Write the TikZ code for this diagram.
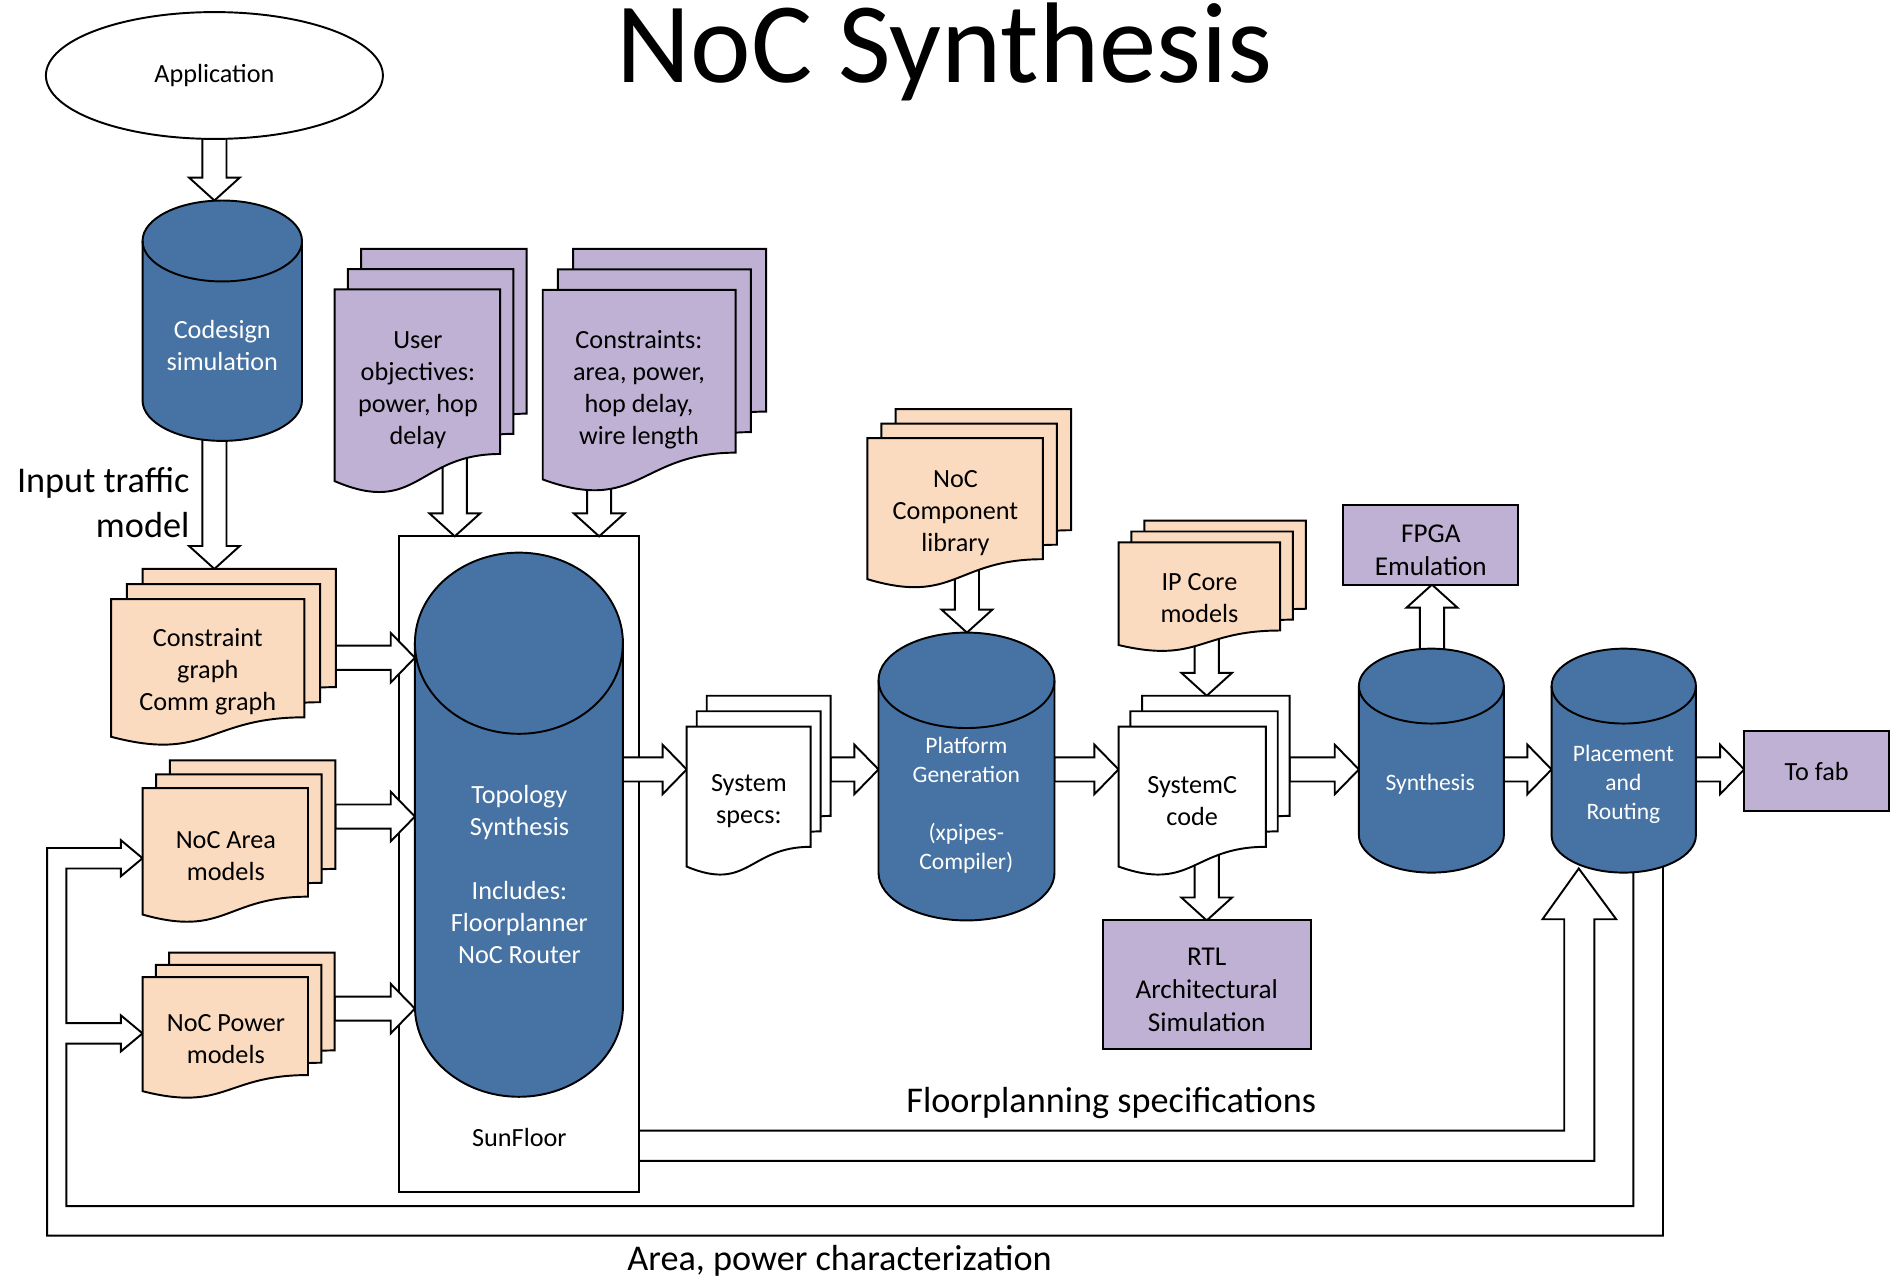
\documentclass[tikz,border=0pt]{standalone}
\usepackage{fontspec}
\setmainfont{Carlito}
\usetikzlibrary{shapes.geometric,calc}
\definecolor{cylblue}{RGB}{70,115,163}
\definecolor{lilac}{RGB}{191,177,211}
\definecolor{peach}{RGB}{251,219,191}
\pgfdeclarelayer{under}
\pgfsetlayers{under,main}

\tikzset{
  outline/.style={draw=black, line width=1.6pt, line join=miter},
  box/.style={rectangle, draw=none, inner sep=0pt, outer sep=0pt},
  cylbody/.style={outline, fill=cylblue},
  lilacdoc/.style={outline, fill=lilac},
  peachdoc/.style={outline, fill=peach},
  whitedoc/.style={outline, fill=white},
  blk/.style={outline, fill=white},
  pipe/.style={outline},
  txt/.style={font=\fontsize{21.7}{26.5}\selectfont, align=center, inner sep=0pt, yshift=-2pt},
  smalltxt/.style={font=\fontsize{19.5}{24}\selectfont, align=center, inner sep=0pt, yshift=-2pt},
  bigtxt/.style={font=\fontsize{30}{37}\selectfont, inner sep=0pt, yshift=-2pt},
  boxtxt/.style={font=\fontsize{22.5}{27.5}\selectfont, align=center, inner sep=0pt, yshift=-2pt},
  flatbox/.style={box, outline, fill=lilac, anchor=north west},
}

% cylinder: name, left, top, right, bottom, cap radius
\newcommand\cylinderbox[6]{%
  \node[box, anchor=north west, minimum width={(#4-#2)*1pt}, minimum height={(#5-#3)*1pt}] (#1) at (#2,#3) {};
  \path[cylbody] (#2,{#3+#6}) -- (#2,{#5-#6})
     arc[start angle=180, end angle=360, x radius={(#4-#2)/2*1pt}, y radius={#6*1pt}]
     -- (#4,{#3+#6})
     arc[start angle=0, end angle=180, x radius={(#4-#2)/2*1pt}, y radius={#6*1pt}] -- cycle;
  \draw[outline] (#2,{#3+#6})
     arc[start angle=180, end angle=360, x radius={(#4-#2)/2*1pt}, y radius={#6*1pt}];
}

% one page with a wavy lower edge: left, top, width, height, style
\newcommand\docpage[5]{%
  \path[#5] ({#1},{#2}) -- ({#1+#3},{#2}) -- ({#1+#3},{#2+0.802*#4})
    .. controls ({#1+0.5*#3},{#2+0.802*#4}) and ({#1+0.5*#3},{#2+1.1075*#4}) ..
    ({#1},{#2+0.934*#4}) -- cycle;
}

% stack of three pages: name, left, top (front page), width, height, dx, dy, style
\newcommand\docstack[8]{%
  \node[box, anchor=north west, minimum width={(#4+2*(#6))*1pt}, minimum height={(#5-2*(#7))*1pt}] (#1) at ({#2},{#3+2*(#7)}) {};
  \docpage{#2+2*(#6)}{#3+2*(#7)}{#4}{#5}{#8}
  \docpage{#2+(#6)}{#3+(#7)}{#4}{#5}{#8}
  \docpage{#2}{#3}{#4}{#5}{#8}
}

% hollow block arrows
\newcommand\rightblock[2]{%
  \draw[blk] let \p1=(#1), \p2=(#2) in
    (\x1,{\y1+10pt}) -- ({\x2-20pt},{\y1+10pt}) -- ({\x2-20pt},{\y1+20.5pt}) -- (\x2,\y1)
    -- ({\x2-20pt},{\y1-20.5pt}) -- ({\x2-20pt},{\y1-10pt}) -- (\x1,{\y1-10pt}) -- cycle;
}
\newcommand\downblock[2]{%
  \draw[blk] let \p1=(#1), \p2=(#2) in
    ({\x1-10pt},\y1) -- ({\x1-10pt},{\y2+19pt}) -- ({\x1-21pt},{\y2+19pt}) -- (\x1,\y2)
    -- ({\x1+21pt},{\y2+19pt}) -- ({\x1+10pt},{\y2+19pt}) -- ({\x1+10pt},\y1) -- cycle;
}
\newcommand\upblock[2]{%
  \draw[blk] let \p1=(#1), \p2=(#2) in
    ({\x1-10pt},\y1) -- ({\x1-10pt},{\y2-19pt}) -- ({\x1-21pt},{\y2-19pt}) -- (\x1,\y2)
    -- ({\x1+21pt},{\y2-19pt}) -- ({\x1+10pt},{\y2-19pt}) -- ({\x1+10pt},\y1) -- cycle;
}

\begin{document}
\begin{tikzpicture}[x=1pt, y=-1pt]
\useasboundingbox (0,0) rectangle (1568,1058);

% title
\node[anchor=base, font=\fontsize{95}{110}\selectfont, inner sep=0pt] (title) at (782,68) {NoC Synthesis};

% application
\node[ellipse, outline, fill=white, minimum width=279pt, minimum height=105pt, inner sep=0pt, txt] (app) at (177.5,60.5) {Application};

% cylinders
\cylinderbox{codesign}{118}{166}{250}{365}{33.5}
\cylinderbox{topo}{343.5}{457.5}{515.7}{908}{75}
\cylinderbox{platform}{727.3}{523.7}{873}{762}{39.5}
\cylinderbox{synth}{1125}{537}{1245}{722.4}{31}
\cylinderbox{place}{1284.5}{537}{1404}{722.4}{31}

% document stacks
\docstack{userobj}{277}{239.5}{137}{170}{11}{-16.7}{lilacdoc}
\docstack{constr}{449.3}{240}{159.7}{168}{12.6}{-17}{lilacdoc}
\docstack{cgraph}{92}{496}{160}{122}{13}{-12.5}{peachdoc}
\docstack{narea}{118}{652.5}{137}{112}{11.3}{-11.5}{peachdoc}
\docstack{npower}{118}{809}{137}{101}{11}{-10.2}{peachdoc}
\docstack{specs}{568.5}{601.6}{102.6}{124}{8.3}{-12.8}{whitedoc}
\docstack{ncomp}{718}{362.7}{145.3}{125}{11.7}{-12}{peachdoc}
\docstack{ipcore}{926}{449}{133.7}{91}{10.7}{-9}{peachdoc}
\docstack{sysc}{926}{601.6}{122}{124}{9.8}{-12.8}{whitedoc}

% plain boxes
\node[flatbox, minimum width=145pt, minimum height=66pt] (fpga) at (1112,418) {};
\node[flatbox, minimum width=172pt, minimum height=106.4pt] (rtl) at (913,762) {};
\node[flatbox, minimum width=120pt, minimum height=66.7pt, txt] (tofab) at (1444,603) {To fab};

% labels
\node[boxtxt] (fpga-t) at (1184.5,453.5) {FPGA\\Emulation};
\node[boxtxt] (rtl-t) at (999,817.5) {RTL\\Architectural\\Simulation};
\node[txt, text=white] (codesign-t) at (184,284) {Codesign\\simulation};
\node[bigtxt, align=right, anchor=east] (traffic) at (157,414) {Input traffic\\model};
\node[txt] (userobj-t) at (346,321) {User\\objectives:\\power, hop\\delay};
\node[txt] (constr-t) at (529,321) {Constraints:\\area, power,\\hop delay,\\wire length};
\node[txt] (cgraph-t) at (172,554.5) {Constraint\\graph\\Comm graph};
\node[txt] (narea-t) at (187,706.5) {NoC Area\\models};
\node[txt] (npower-t) at (187,858) {NoC Power\\models};
\node[txt, text=white] (topo-t) at (430,722) {Topology\\Synthesis\\[26.5pt]Includes:\\Floorplanner\\NoC Router};
\node[txt] (sunfloor-t) at (430,940) {SunFloor};
\node[txt] (specs-t) at (620,661) {System\\specs:};
\node[smalltxt, text=white] (platform-t) at (800,664.5) {Platform\\Generation\\[24pt](xpipes-\\Compiler)};
\node[txt] (ncomp-t) at (791,422.5) {NoC\\Component\\library};
\node[txt] (ipcore-t) at (993,493) {IP Core\\models};
\node[txt] (sysc-t) at (987,661) {SystemC\\code};
\node[smalltxt, text=white] (synth-t) at (1184,647) {Synthesis};
\node[smalltxt, text=white] (place-t) at (1344,647) {Placement\\and\\Routing};
\node[bigtxt] (fp-t) at (920,911) {Floorplanning specifications};
\node[bigtxt] (ap-t) at (695,1042) {Area, power characterization};

\coordinate (row) at (0,637);

\begin{pgfonlayer}{under}
  % SunFloor frame around the topology synthesis step
  \node[box, outline, fill=white, anchor=north west, minimum width=199pt, minimum height=543pt] (sunfloor) at (330,444) {};

  % vertical flow
  \downblock{$(app.south)+(0,-8)$}{codesign.north}
  \downblock{$(app.south |- codesign.south)+(0,-10)$}{cgraph.north}
  \downblock{$(userobj.south west)+(99.5,-35)$}{sunfloor.north}
  \downblock{$(constr.south west)+(46.7,-28)$}{sunfloor.north}
  \downblock{$(ncomp.south west)+(82.5,-23)$}{platform.north}
  \downblock{$(ipcore.south west)+(73,-18)$}{sysc.north}
  \downblock{$(sysc.south west)+(73,-26)$}{rtl.north}
  \upblock{$(synth.north)+(0.5,12)$}{fpga.south}

  % inputs into topology synthesis
  \rightblock{cgraph.east}{topo.west}
  \rightblock{$(narea.east)+(0,-21)$}{topo.west}
  \rightblock{$(npower.east)+(0,-14.3)$}{topo.west}

  % main row
  \rightblock{topo.east |- row}{specs.west}
  \rightblock{specs.east |- row}{platform.west}
  \rightblock{platform.east |- row}{sysc.west}
  \rightblock{sysc.east |- row}{synth.west}
  \rightblock{synth.east |- row}{place.west}
  \rightblock{place.east |- row}{tofab.west}

  % floorplanning specifications feed
  \draw[pipe] (sunfloor.east |- 0,936) -- (1295,936) -- (1295,761) -- (1277,761) -- (1307,719)
    -- (1338,761) -- (1320,761) -- (1320,961) -- (sunfloor.east |- 0,961);

  % area / power characterization feedback
  \draw[pipe] ($(place.south)+(32.5,-10)$) -- (1376.75,1023) -- (39,1023) -- (39,702) -- (100,702)
    -- (100,695.5) -- (narea.west |- 0,710.5) -- (100,725.5) -- (100,719) -- (55,719) -- (55,847)
    -- (100,847) -- (100,840.5) -- (npower.west |- 0,855.5) -- (100,870.5) -- (100,864) -- (55,864)
    -- (55,998.5) -- (1352.25,998.5) -- ($(place.south)+(8,-10)$);
\end{pgfonlayer}
\end{tikzpicture}
\end{document}
